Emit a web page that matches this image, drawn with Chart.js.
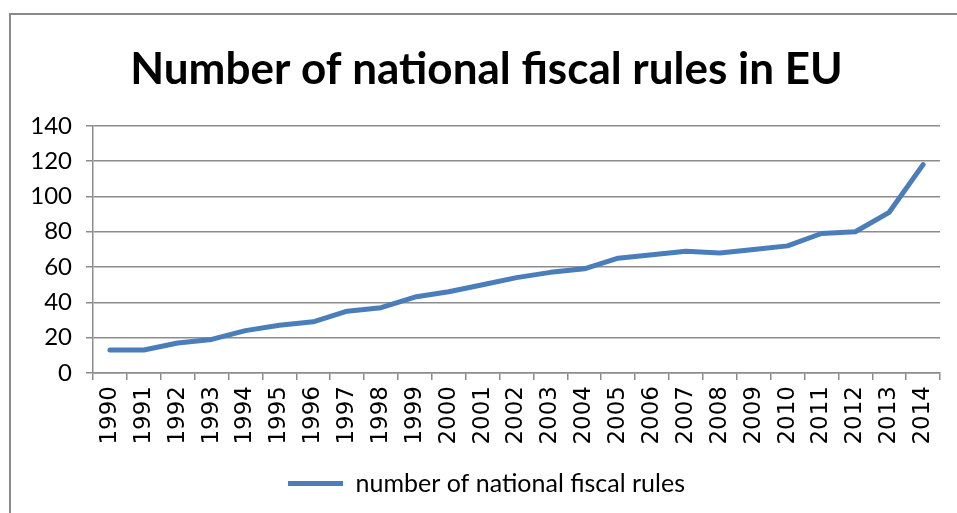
<!DOCTYPE html>
<html>
<head>
<meta charset="utf-8">
<title>Number of national fiscal rules in EU</title>
<script src="https://cdn.jsdelivr.net/npm/chart.js@4/dist/chart.umd.min.js"></script>
<style>
  html, body { margin: 0; padding: 0; background: #fff; }
  canvas { display: block; }
</style>
</head>
<body>
<canvas id="rulesChart" width="957" height="513"></canvas>
<script>
const years = [
  "1990", "1991", "1992", "1993", "1994", "1995", "1996", "1997", "1998", "1999",
  "2000", "2001", "2002", "2003", "2004", "2005", "2006", "2007", "2008", "2009",
  "2010", "2011", "2012", "2013", "2014"
];
const fiscalRules = [
  13, 13, 17, 19, 24, 27, 29, 35, 37, 43,
  46, 50, 54, 57, 59, 65, 67, 69, 68, 70,
  72, 79, 80, 91, 118
];
const seriesLabel = "number of national fiscal rules";
const chartTitle = "Number of national fiscal rules in EU";
const yMin = 0;
const yMax = 140;
const yStep = 20;

const GRID = "#8c8c8c";
const LINE = "#4a7ebb";

// gray frame round the chart, like the office chart border
const framePlugin = {
  id: "frame",
  beforeDraw(chart) {
    const ctx = chart.ctx;
    ctx.save();
    ctx.strokeStyle = "#8a8a8a";
    ctx.lineWidth = 2;
    ctx.strokeRect(10, 14, chart.width + 10, chart.height + 10);
    ctx.restore();
  }
};

function initChart() {
  const ctx = document.getElementById("rulesChart").getContext("2d");

  new Chart(ctx, {
    type: "line",
    data: {
      labels: years,
      datasets: [
        {
          label: seriesLabel,
          data: fiscalRules,
          borderColor: LINE,
          backgroundColor: LINE,
          borderWidth: 5,
          borderCapStyle: "round",
          borderJoinStyle: "round",
          pointRadius: 0,
          tension: 0
        }
      ]
    },
    options: {
      responsive: false,
      animation: false,
      layout: {
        padding: { left: 32, right: 16, top: 20, bottom: 7 }
      },
      plugins: {
        title: {
          display: true,
          text: chartTitle,
          color: "#000",
          font: { family: "Lato", size: 44, weight: "bold" },
          padding: { top: 23, bottom: 30 }
        },
        legend: {
          position: "bottom",
          labels: {
            color: "#000",
            font: { family: "Lato", size: 25 },
            usePointStyle: true,
            pointStyle: "line",
            pointStyleWidth: 55,
            boxHeight: 10,
            padding: 10
          }
        },
        tooltip: { enabled: false }
      },
      scales: {
        x: {
          offset: true,
          afterFit: s => { s.height = 88; },
          border: { display: true, color: GRID, width: 1.5 },
          grid: {
            offset: true,
            drawOnChartArea: false,
            drawTicks: true,
            tickLength: 7,
            color: GRID,
            lineWidth: 1.5
          },
          ticks: {
            color: "#000",
            font: { family: "DejaVu Sans", size: 23 },
            minRotation: 90,
            maxRotation: 90,
            autoSkip: false,
            padding: 6
          }
        },
        y: {
          min: yMin,
          max: yMax,
          afterFit: s => { s.width = 61; },
          border: { display: true, color: GRID, width: 1.5 },
          grid: {
            color: GRID,
            lineWidth: 1.5,
            drawTicks: true,
            tickLength: 7
          },
          ticks: {
            stepSize: yStep,
            color: "#000",
            font: { family: "Lato", size: 24 },
            padding: 14
          }
        }
      }
    },
    plugins: [framePlugin]
  });
}

document.addEventListener("DOMContentLoaded", initChart);
</script>
</body>
</html>
